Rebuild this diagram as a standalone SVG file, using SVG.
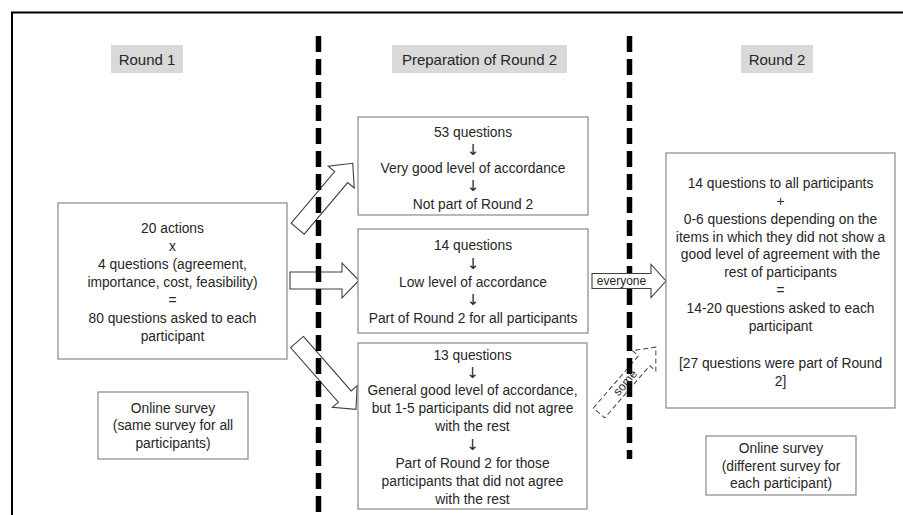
<svg xmlns="http://www.w3.org/2000/svg" width="903" height="515" viewBox="0 0 903 515">
<style>
  text { font-family: "Liberation Sans", "DejaVu Sans", sans-serif; font-size: 13.8px; fill: #262626; text-anchor: middle; dominant-baseline: central; }
  .hdr { font-size: 15px; }
  .arr { font-family: "DejaVu Sans", "Liberation Sans", sans-serif; font-size: 15px; }
  .box { fill: #ffffff; stroke: #7f7f7f; stroke-width: 1.1; }
  .hbox { fill: #d9d9d9; stroke: none; }
  .barrow { fill: #ffffff; stroke: #404040; stroke-width: 1.1; stroke-linejoin: miter; }
  .darrow { fill: #ffffff; stroke: #404040; stroke-width: 1; stroke-dasharray: 5 3; }
  .sep { stroke: #000000; stroke-width: 5.5; stroke-dasharray: 16 7; fill: none; }
  .small { font-size: 12px; }
</style>
<rect x="0" y="0" width="903" height="515" fill="#ffffff"/>
<g id="frame">
  <rect x="12" y="12.5" width="1000" height="600" fill="none" stroke="#000000" stroke-width="2"/>
</g>
<g id="headers">
  <g id="h-round1"><rect class="hbox" x="111" y="45" width="72" height="28"/><text class="hdr" x="147" y="59">Round 1</text></g>
  <g id="h-prep"><rect class="hbox" x="392" y="45" width="175" height="28"/><text class="hdr" x="479.5" y="59">Preparation of Round 2</text></g>
  <g id="h-round2"><rect class="hbox" x="741" y="45" width="72" height="28"/><text class="hdr" x="777" y="59">Round 2</text></g>
</g>
<g id="connectors">
  <polygon id="arrow-a" class="barrow" transform="translate(297.7,228.7) rotate(-49.9)" points="0,-8.5 67.5,-8.5 67.5,-17 85.5,0 67.5,17 67.5,8.5 0,8.5"/>
  <polygon id="arrow-b" class="barrow" points="290,272 342,272 342,263 359,280.5 342,298 342,289 290,289"/>
  <polygon id="arrow-c" class="barrow" transform="translate(297,342) rotate(48.8)" points="0,-8.5 72.5,-8.5 72.5,-16.5 89.5,0 72.5,16.5 72.5,8.5 0,8.5"/>
  <g id="arrow-some" transform="translate(599,413) rotate(-49.2)">
    <polygon class="darrow" points="0,-7.5 69,-7.5 69,-15.5 87,0 69,15.5 69,7.5 0,7.5"/>
  </g>
</g>
<g id="separators">
  <line class="sep" x1="318.5" y1="36" x2="318.5" y2="515"/>
  <line class="sep" x1="629.5" y1="36" x2="629.5" y2="459"/>
</g>
<g id="connector-labels">
  <text class="small" transform="translate(599,413) rotate(-49.2)" x="40" y="0">some</text>
  <g id="arrow-everyone">
    <polygon class="barrow" points="592,273.5 651,273.5 651,264.5 666,281 651,297.5 651,288.5 592,288.5"/>
    <text class="small" x="621.5" y="281">everyone</text>
  </g>
</g>
<g id="round1-box">
  <rect class="box" x="58" y="203" width="229" height="156"/>
  <text x="172.5" y="228">20 actions</text>
  <text x="172.5" y="246">x</text>
  <text x="172.5" y="264">4 questions (agreement,</text>
  <text x="172.5" y="282">importance, cost, feasibility)</text>
  <text x="172.5" y="300">=</text>
  <text x="172.5" y="318">80 questions asked to each</text>
  <text x="172.5" y="336">participant</text>
</g>
<g id="round1-survey">
  <rect class="box" x="98" y="392" width="150" height="67"/>
  <text x="173" y="408">Online survey</text>
  <text x="173" y="425.5">(same survey for all</text>
  <text x="173" y="443">participants)</text>
</g>
<g id="prep-a">
  <rect class="box" x="358" y="117" width="230" height="98"/>
  <text x="473" y="132">53 questions</text>
  <text class="arr" x="473" y="150">↓</text>
  <text x="473" y="168">Very good level of accordance</text>
  <text class="arr" x="473" y="186">↓</text>
  <text x="473" y="204">Not part of Round 2</text>
</g>
<g id="prep-b">
  <rect class="box" x="358" y="229" width="230" height="104"/>
  <text x="473" y="245">14 questions</text>
  <text class="arr" x="473" y="263.5">↓</text>
  <text x="473" y="282">Low level of accordance</text>
  <text class="arr" x="473" y="300">↓</text>
  <text x="473" y="318">Part of Round 2 for all participants</text>
</g>
<g id="prep-c">
  <rect class="box" x="358" y="343" width="229" height="166"/>
  <text x="472.5" y="355">13 questions</text>
  <text class="arr" x="472.5" y="373">↓</text>
  <text x="472.5" y="390.5">General good level of accordance,</text>
  <text x="472.5" y="408.5">but 1-5 participants did not agree</text>
  <text x="472.5" y="426">with the rest</text>
  <text class="arr" x="472.5" y="445">↓</text>
  <text x="472.5" y="463">Part of Round 2 for those</text>
  <text x="472.5" y="481.5">participants that did not agree</text>
  <text x="472.5" y="499.5">with the rest</text>
</g>
<g id="round2-box">
  <rect class="box" x="666" y="153" width="229" height="255"/>
  <text x="780.5" y="183">14 questions to all participants</text>
  <text x="780.5" y="201">+</text>
  <text x="780.5" y="219">0-6 questions depending on the</text>
  <text x="780.5" y="237">items in which they did not show a</text>
  <text x="780.5" y="254.5">good level of agreement with the</text>
  <text x="780.5" y="272">rest of participants</text>
  <text x="780.5" y="290">=</text>
  <text x="780.5" y="308">14-20 questions asked to each</text>
  <text x="780.5" y="326.5">participant</text>
  <text x="780.5" y="363">[27 questions were part of Round</text>
  <text x="780.5" y="381">2]</text>
</g>
<g id="round2-survey">
  <rect class="box" x="706" y="436" width="150" height="59"/>
  <text x="781" y="448">Online survey</text>
  <text x="781" y="466">(different survey for</text>
  <text x="781" y="483">each participant)</text>
</g>
</svg>
